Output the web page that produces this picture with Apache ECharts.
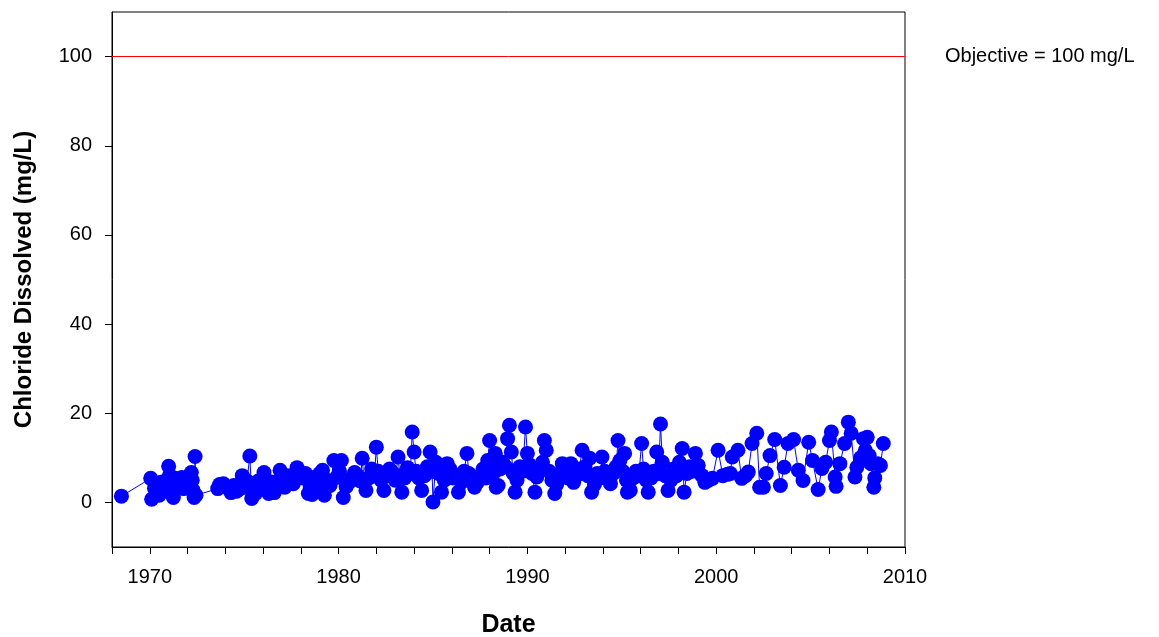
<!DOCTYPE html>
<html>
<head>
<meta charset="utf-8">
<script src="https://cdn.jsdelivr.net/npm/echarts@6/dist/echarts.min.js"></script>
<style>
  html, body { margin: 0; padding: 0; background: #fff; }
  #chart { width: 1159px; height: 637px; }
</style>
</head>
<body>
<div id="chart"></div>
<script type="text/javascript">
    // sample dates (decimal years) and dissolved chloride, mg/L
    var sampleYears = [
        1968.50,
        1970.05, 1970.10, 1970.25, 1970.35, 1970.45, 1970.50, 1970.60, 1970.70, 1970.80, 1970.90,
        1971.00, 1971.05, 1971.15, 1971.25, 1971.35, 1971.45, 1971.60, 1971.70, 1971.80, 1971.95,
        1972.10, 1972.20, 1972.25, 1972.30, 1972.35, 1972.40, 1972.45,
        1973.60, 1973.70, 1973.90, 1974.10, 1974.30, 1974.45, 1974.60, 1974.75, 1974.90,
        1975.05, 1975.15, 1975.30, 1975.40, 1975.50, 1975.60, 1975.75, 1975.90,
        1976.05, 1976.15, 1976.30, 1976.45, 1976.60, 1976.75, 1976.90,
        1977.00, 1977.15, 1977.30, 1977.45, 1977.60, 1977.80, 1977.95,
        1978.10, 1978.25, 1978.40, 1978.50, 1978.60, 1978.70, 1978.85,
        1979.00, 1979.15, 1979.25, 1979.40, 1979.55, 1979.75, 1979.90,
        1980.05, 1980.15, 1980.25, 1980.40, 1980.55, 1980.70, 1980.85,
        1981.00, 1981.15, 1981.25, 1981.35, 1981.45, 1981.60, 1981.75, 1981.90,
        1982.00, 1982.10, 1982.25, 1982.40, 1982.55, 1982.70, 1982.85,
        1983.00, 1983.15, 1983.25, 1983.35, 1983.50, 1983.65, 1983.80, 1983.90,
        1984.00, 1984.10, 1984.25, 1984.40, 1984.55, 1984.70, 1984.85, 1984.95,
        1985.00, 1985.15, 1985.30, 1985.45, 1985.60, 1985.75, 1985.90,
        1986.05, 1986.20, 1986.35, 1986.50, 1986.65, 1986.80, 1986.90,
        1987.05, 1987.20, 1987.35, 1987.50, 1987.65, 1987.80, 1987.90,
        1988.00, 1988.10, 1988.20, 1988.30, 1988.35, 1988.45, 1988.55, 1988.70, 1988.85, 1988.95,
        1989.05, 1989.15, 1989.25, 1989.35, 1989.45, 1989.60, 1989.75, 1989.90,
        1990.00, 1990.10, 1990.25, 1990.40, 1990.50, 1990.65, 1990.80, 1990.90,
        1991.00, 1991.15, 1991.30, 1991.45, 1991.55, 1991.70, 1991.85,
        1992.00, 1992.15, 1992.30, 1992.45, 1992.60, 1992.75, 1992.90,
        1993.05, 1993.20, 1993.30, 1993.40, 1993.55, 1993.70, 1993.85, 1993.95,
        1994.10, 1994.25, 1994.40, 1994.55, 1994.70, 1994.80, 1994.90,
        1995.05, 1995.15, 1995.25, 1995.30, 1995.45, 1995.60, 1995.75, 1995.90,
        1996.05, 1996.15, 1996.30, 1996.40, 1996.55, 1996.70, 1996.85, 1996.95,
        1997.05, 1997.15, 1997.30, 1997.45, 1997.60, 1997.75, 1997.90,
        1998.05, 1998.20, 1998.30, 1998.45, 1998.60, 1998.75, 1998.90,
        1999.05, 1999.25, 1999.40, 1999.60, 1999.80,
        2000.10, 2000.35, 2000.60, 2000.75, 2000.85,
        2001.15, 2001.35, 2001.55, 2001.70, 2001.90,
        2002.15, 2002.30, 2002.50, 2002.65, 2002.85,
        2003.10, 2003.40, 2003.60, 2003.80,
        2004.10, 2004.35, 2004.60, 2004.90,
        2005.10, 2005.40, 2005.60, 2005.80,
        2006.00, 2006.10, 2006.30, 2006.35, 2006.55, 2006.80,
        2007.00, 2007.15, 2007.35, 2007.45, 2007.65, 2007.80, 2007.90,
        2008.00, 2008.10, 2008.20, 2008.35, 2008.40, 2008.55, 2008.70, 2008.85
    ];
    var chloride = [
        1.4,
        5.4, 0.7, 3.2, 2.4, 3.4, 1.6, 4.5, 3.0, 4.0, 5.0,
        8.1, 6.0, 4.0, 1.1, 5.4, 4.2, 3.5, 5.6, 3.1, 4.8,
        5.5, 6.7, 5.0, 2.7, 1.1, 10.3, 1.6,
        3.1, 4.0, 4.2, 3.3, 2.2, 3.8, 2.5, 3.0, 6.0,
        3.4, 4.8, 10.4, 0.9, 3.0, 2.0, 4.8, 5.0,
        6.7, 3.2, 2.0, 4.6, 2.2, 4.5, 7.2,
        5.0, 3.4, 6.0, 5.0, 4.2, 7.8, 6.7,
        5.5, 6.5, 2.0, 3.5, 1.8, 5.6, 4.0,
        6.5, 7.2, 1.6, 5.0, 3.8, 9.4, 5.6,
        7.0, 9.4, 1.1, 3.5, 4.5, 5.5, 6.7,
        6.0, 4.8, 9.9, 5.0, 2.7, 5.5, 7.5, 6.0,
        12.4, 7.0, 5.0, 2.7, 6.0, 7.5, 6.7,
        5.0, 10.2, 6.0, 2.3, 5.5, 7.8, 6.5, 15.8,
        11.3, 7.0, 5.5, 2.7, 6.0, 8.0, 11.3, 7.0,
        0.1, 9.0, 6.5, 2.3, 5.0, 8.7, 7.5,
        5.5, 6.0, 2.3, 4.5, 7.0, 11.0, 6.5,
        5.0, 3.4, 4.5, 6.0, 7.5, 5.5, 9.4,
        13.9, 8.5, 6.5, 11.0, 3.4, 3.8, 7.5, 9.0, 8.0, 14.3,
        17.3, 11.3, 6.5, 2.3, 5.0, 8.0, 7.0, 16.9,
        11.0, 8.5, 6.5, 2.3, 5.7, 7.5, 9.0, 13.9,
        11.7, 7.0, 5.0, 2.0, 4.0, 6.5, 8.7,
        7.0, 5.5, 8.7, 4.5, 6.0, 7.5, 11.7,
        8.0, 6.0, 9.9, 2.3, 4.0, 6.5, 5.5, 10.2,
        7.0, 5.7, 4.2, 6.5, 8.0, 13.9, 9.4,
        7.0, 11.0, 5.0, 2.3, 2.7, 5.5, 7.0, 6.0,
        13.2, 7.5, 5.0, 2.3, 5.5, 7.0, 11.3, 6.5,
        17.6, 9.0, 6.0, 2.7, 5.0, 7.5, 6.0,
        9.0, 12.1, 2.3, 6.5, 8.0, 7.0, 11.0,
        8.3, 6.0, 4.5, 5.0, 5.4,
        11.7, 6.0, 6.3, 6.5, 10.2,
        11.7, 5.4, 6.0, 6.8, 13.2,
        15.5, 3.4, 3.4, 6.5, 10.5,
        14.1, 3.8, 7.9, 13.2,
        14.1, 7.2, 4.9, 13.5,
        9.4, 2.9, 7.6, 9.0,
        13.9, 15.8, 5.7, 3.6, 8.7, 13.2,
        18.0, 15.5, 5.7, 7.9, 10.0, 14.3, 11.7,
        14.6, 10.5, 8.7, 3.4, 5.5, 8.7, 8.3, 13.2
    ];
    var yTicks = [0, 20, 40, 60, 80, 100];
    var objective = 100;

    var points = [];
    for (var i = 0; i < sampleYears.length; i++) {
        points.push([sampleYears[i], chloride[i]]);
    }

    var chart = echarts.init(document.getElementById('chart'));
    var font = 'Liberation Sans, Arial, sans-serif';
    var option = {
        animation: false,
        grid: {
            left: 112,
            right: 254,
            top: 12,
            bottom: 90,
            outerBoundsMode: 'none',
            show: true,
            borderColor: '#000',
            borderWidth: 1
        },
        xAxis: {
            type: 'value',
            min: 1968,
            max: 2010,
            interval: 2,
            name: 'Date',
            nameLocation: 'middle',
            nameGap: 66,
            nameTextStyle: { fontFamily: font, fontSize: 25, fontWeight: 'bold', color: '#000' },
            axisLine: { onZero: false, lineStyle: { color: '#000', width: 1 } },
            axisTick: { length: 7, lineStyle: { color: '#000' } },
            axisLabel: {
                fontFamily: font, fontSize: 20, color: '#000', margin: 20,
                formatter: function (v) { return v % 10 === 0 ? String(v) : ''; }
            },
            splitLine: { show: false }
        },
        yAxis: {
            type: 'value',
            min: -10,
            max: 110,
            name: 'Chloride Dissolved (mg/L)',
            nameLocation: 'middle',
            nameGap: 76,
            nameTextStyle: { fontFamily: font, fontSize: 24, fontWeight: 'bold', color: '#000' },
            axisLine: { show: true, onZero: false, lineStyle: { color: '#000', width: 1 } },
            axisTick: { show: true, length: 7, customValues: yTicks, lineStyle: { color: '#000' } },
            axisLabel: { fontFamily: font, fontSize: 20, color: '#000', margin: 20, customValues: yTicks },
            splitLine: { show: false }
        },
        series: [{
            type: 'line',
            data: points,
            symbol: 'circle',
            symbolSize: 15,
            showAllSymbol: true,
            itemStyle: { color: '#0000ff' },
            lineStyle: { color: '#0000ff', width: 1 },
            markLine: {
                silent: true,
                symbol: 'none',
                lineStyle: { color: '#ff0000', type: 'solid', width: 1 },
                label: {
                    position: 'end',
                    distance: 40,
                    fontFamily: font,
                    fontSize: 20,
                    color: '#000',
                    formatter: 'Objective = 100 mg/L'
                },
                data: [{ yAxis: objective }]
            }
        }]
    };
    chart.setOption(option);
</script>
</body>
</html>
